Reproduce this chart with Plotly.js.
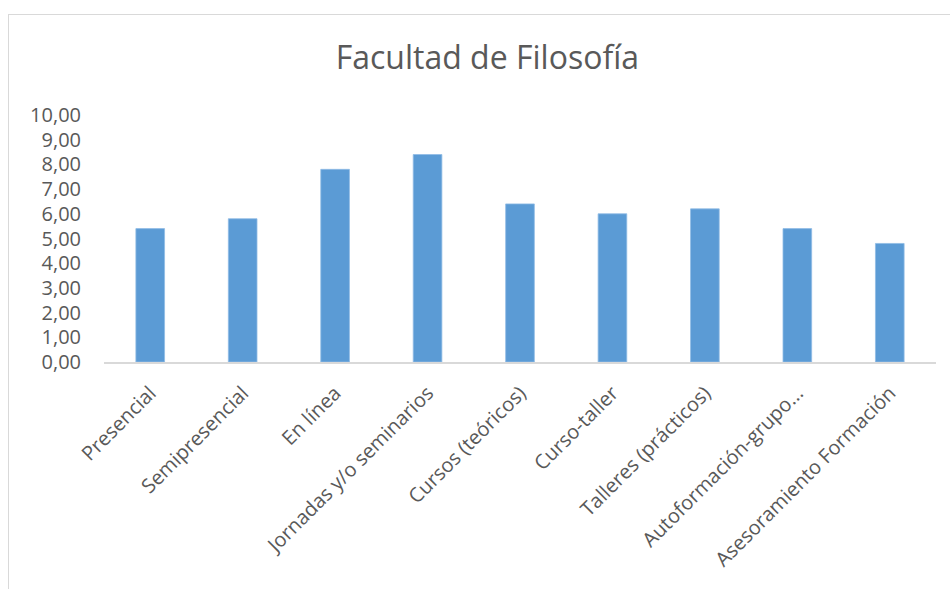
<!DOCTYPE html>
<html>
<head>
<meta charset="utf-8">
<script src="https://cdn.plot.ly/plotly-3.0.1.min.js"></script>
<style>
  html, body { margin: 0; padding: 0; background: #ffffff; overflow: hidden; }
  #wrap { position: relative; width: 950px; height: 589px; }
  #chart { position: absolute; left: 0; top: 0; width: 950px; height: 589px; }
  #frame { position: absolute; left: 8px; top: 14px; width: 960px; height: 600px;
           border: 1.5px solid #d9d9d9; box-sizing: border-box; pointer-events: none; }
</style>
</head>
<body>
<div id="wrap">
  <div id="chart"></div>
  <div id="frame"></div>
</div>
<script>
const chartTitle = "Facultad de Filosofía";
const categories = [
  "Presencial",
  "Semipresencial",
  "En línea",
  "Jornadas y/o seminarios",
  "Cursos (teóricos)",
  "Curso-taller",
  "Talleres (prácticos)",
  "Autoformación-grupo...",
  "Asesoramiento Formación"
];
const values = [5.4, 5.8, 7.8, 8.4, 6.4, 6.0, 6.2, 5.4, 4.8];
const yTickVals = [0, 1, 2, 3, 4, 5, 6, 7, 8, 9, 10];
const yTickText = ["0,00", "1,00", "2,00", "3,00", "4,00", "5,00", "6,00", "7,00", "8,00", "9,00", "10,00"];

const FONT = "'Open Sans', 'Noto Sans', sans-serif";

const trace = {
  type: "bar",
  x: categories,
  y: values,
  width: 0.31,
  marker: { color: "#5b9bd5", line: { color: "#8fbbe5", width: 0.8 } },
  hoverinfo: "x+y"
};

const layout = {
  width: 950,
  height: 589,
  paper_bgcolor: "rgba(0,0,0,0)",
  plot_bgcolor: "rgba(0,0,0,0)",
  margin: { l: 104, r: 14, t: 115, b: 227, pad: 0 },
  showlegend: false,
  bargap: 0.69,
  title: {
    text: chartTitle,
    font: { family: FONT, size: 32, color: "#595959" },
    x: 0.513,
    xanchor: "center",
    y: 0.902,
    yanchor: "middle"
  },
  xaxis: {
    type: "category",
    tickangle: -45,
    tickfont: { family: FONT, size: 20, color: "#595959" },
    showline: true,
    linecolor: "#d9d9d9",
    linewidth: 1.5,
    showgrid: false,
    ticks: "",
    ticklabelstandoff: 10,
    automargin: false
  },
  yaxis: {
    range: [0, 10],
    tickvals: yTickVals,
    ticktext: yTickText,
    tickfont: { family: FONT, size: 20, color: "#595959" },
    showline: false,
    showgrid: false,
    zeroline: false,
    ticks: "",
    ticklabelstandoff: 22,
    automargin: false
  }
};

Plotly.newPlot("chart", [trace], layout, { displayModeBar: false, staticPlot: true });
</script>
</body>
</html>
